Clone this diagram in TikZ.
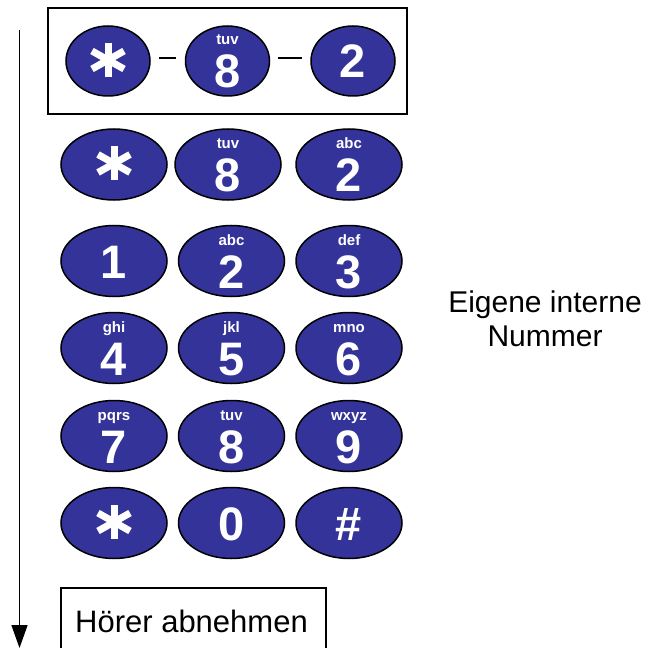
\documentclass[tikz,border=0pt]{standalone}
\usepackage{fontspec}
\setmainfont{Liberation Sans}
\usetikzlibrary{shapes.geometric,calc,arrows.meta}
\definecolor{keyblue}{HTML}{333399}
\tikzset{
  key/.style={ellipse, draw=black, line width=1.5bp, fill=keyblue, minimum width=106bp, minimum height=71bp, inner sep=0pt},
  smallkey/.style={key, minimum width=84bp, minimum height=70bp},
  digit/.style={text=white, font=\fontsize{47bp}{47bp}\selectfont\bfseries, anchor=base, inner sep=0pt},
  letters/.style={text=white, font=\fontsize{15bp}{15bp}\selectfont\bfseries, anchor=base, inner sep=0pt},
  astline/.style={white, line width=7bp},
  frame/.style={draw=black, line width=1.2bp, rectangle, inner sep=0pt},
  lbl/.style={font=\fontsize{31bp}{34bp}\selectfont, inner sep=0pt},
  sidelbl/.style={font=\fontsize{30bp}{34bp}\selectfont, inner sep=0pt},
  dashline/.style={black, line width=2.5bp},
  flow/.style={black, line width=1.7bp, -{Triangle[length=23bp,width=16bp]}}
}
\newcommand\padkey[6]{% style, name, x, y, digit, letters
  \node[#1] (#2) at (#3,#4) {};
  \node[digit] (#2d) at ($(#2)+(0,27)$) {#5};
  \node[letters] (#2l) at ($(#2)+(0,-16)$) {#6};
}
\newcommand\plainkey[5]{% style, name, x, y, digit
  \node[#1] (#2) at (#3,#4) {};
  \node[digit] (#2d) at ($(#2)+(0,17)$) {#5};
}
\newcommand\astkey[4]{% style, name, x, y
  \node[#1] (#2) at (#3,#4) {};
  \coordinate (#2c) at ($(#2)+(0,-1)$);
  \draw[astline] ($(#2c)+(0,-17)$) -- ($(#2c)+(0,17)$);
  \draw[astline] ($(#2c)+(-16,-9)$) -- ($(#2c)+(16,9)$);
  \draw[astline] ($(#2c)+(-16,9)$) -- ($(#2c)+(16,-9)$);
}
\begin{document}
\begin{tikzpicture}[x=1bp,y=-1bp]
\useasboundingbox (0,0) rectangle (662,648);
% top combination
\node[frame, minimum width=359bp, minimum height=106bp] (combo) at (227.5,61) {};
\astkey{smallkey}{t1}{108}{61}
\padkey{smallkey}{t2}{227.5}{61}{8}{tuv}
\plainkey{smallkey}{t3}{353}{61}{2}
\draw[dashline, shorten <=8bp, shorten >=8.5bp] ($(t1.east)+(0,-3)$) -- ($(t2.west)+(0,-3)$);
\draw[dashline, shorten <=8bp, shorten >=8.5bp] ($(t2.east)+(0,-3)$) -- ($(t3.west)+(0,-3)$);
% row 1
\astkey{key}{a1}{114}{164.5}
\padkey{key}{a2}{228}{164.5}{8}{tuv}
\padkey{key}{a3}{349}{164.5}{2}{abc}
% keypad
\plainkey{key}{k1}{114}{261}{1}
\padkey{key}{k2}{231.5}{261}{2}{abc}
\padkey{key}{k3}{349}{261}{3}{def}
\padkey{key}{k4}{114}{348}{4}{ghi}
\padkey{key}{k5}{231.5}{348}{5}{jkl}
\padkey{key}{k6}{349}{348}{6}{mno}
\padkey{key}{k7}{114}{436}{7}{pqrs}
\padkey{key}{k8}{231.5}{436}{8}{tuv}
\padkey{key}{k9}{349}{436}{9}{wxyz}
\astkey{key}{ks}{114}{523}
\plainkey{key}{k0}{231.5}{523}{0}
\plainkey{key}{kh}{349}{523}{\#}
% side label
\node[sidelbl, align=center, anchor=base] (own) at (545,346) {Eigene interne\\Nummer};
% bottom step
\node[frame, minimum width=265bp, minimum height=64bp] (lift) at (193.5,620) {};
\node[lbl, anchor=base] (lifttext) at (191.5,632) {Hörer abnehmen};
% time arrow
\coordinate (as) at (19.5,30);
\coordinate (ae) at (19.5,648);
\draw[flow] (as) -- (ae);
\end{tikzpicture}
\end{document}
